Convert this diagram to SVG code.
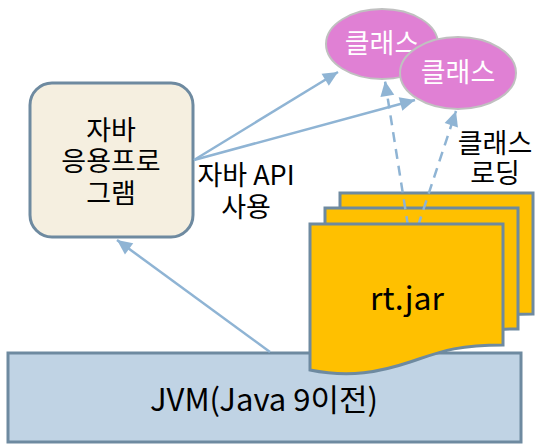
<svg xmlns="http://www.w3.org/2000/svg" width="535" height="445" viewBox="0 0 535 445">
<style>
text{font-family:"Noto Sans CJK KR","Noto Sans",sans-serif;text-anchor:middle;fill:#000}
.box{stroke:#6e8aa0;stroke-width:3}
.cls{fill:#e080d4;stroke:#c0c0c0;stroke-width:2}
.wt{fill:#fff;font-size:27px}
.lb{font-size:27px}
.con{stroke:#8fb4d4;stroke-width:2.5;fill:none}
.dash{stroke-dasharray:10 7}
</style>
<defs>
<marker id="ah" markerWidth="10" markerHeight="10" viewBox="0 0 10 10" refX="9" refY="5" orient="auto" markerUnits="userSpaceOnUse" style="overflow:visible">
<path d="M-6,-2 L9,5 L-6,12 Z" fill="#8fb4d4"/>
</marker>
</defs>
<g id="jvm">
<rect class="box" x="8" y="353" width="513" height="89" fill="#c0d3e4"/>
<text x="264" y="411" font-size="31">JVM(Java 9이전)</text>
</g>
<g id="app">
<rect class="box" x="30" y="83" width="163" height="154" rx="22" fill="#f5efe0"/>
<text class="lb" x="111" y="140">자바</text>
<text class="lb" x="111" y="171">응용프로</text>
<text class="lb" x="111" y="203">그램</text>
</g>
<g id="label-api">
<text class="lb" x="246" y="185">자바 API</text>
<text class="lb" x="246" y="217">사용</text>
</g>
<g id="label-loading">
<text class="lb" x="495" y="153">클래스</text>
<text class="lb" x="495" y="183">로딩</text>
</g>
<g id="class1">
<ellipse class="cls" cx="382" cy="44" rx="56" ry="35"/>
<text class="wt" x="382" y="53">클래스</text>
</g>
<g id="class2">
<ellipse class="cls" cx="458" cy="73" rx="58" ry="36"/>
<text class="wt" x="458" y="82">클래스</text>
</g>
<g id="rtjar">
<path class="box" fill="#ffc000" d="M340,193 H533 V314 C485,314 470,321 440,331 C410,341 380,347 340,339 Z"/>
<path class="box" fill="#ffc000" d="M325,208 H518 V329 C470,329 455,336 425,346 C395,356 365,362 325,354 Z"/>
</g>
<g id="connectors">
<line class="con" x1="270" y1="352" x2="117" y2="240" marker-end="url(#ah)"/>
<line class="con" x1="194" y1="160" x2="338" y2="72" marker-end="url(#ah)"/>
<line class="con" x1="194" y1="160" x2="415" y2="100" marker-end="url(#ah)"/>
<line class="con dash" x1="408" y1="226" x2="385" y2="81" marker-end="url(#ah)"/>
<line class="con dash" x1="418" y1="226" x2="456" y2="111" marker-end="url(#ah)"/>
</g>
<g id="rtjar-front">
<path class="box" fill="#ffc000" d="M310,224 H503 V345 C455,345 440,352 410,362 C380,372 350,378 310,370 Z"/>
<text x="407" y="310" font-size="32">rt.jar</text>
</g>
</svg>
